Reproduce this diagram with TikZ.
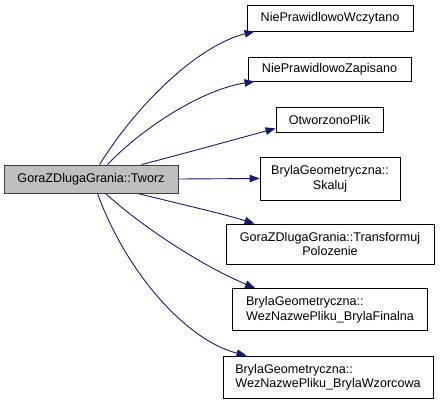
\documentclass[tikz,border=0pt]{standalone}
\usepackage{fontspec}
\setmainfont{Liberation Sans}
\usetikzlibrary{arrows.meta,calc}
\definecolor{edgeblue}{HTML}{191970}
\definecolor{boxgray}{HTML}{BFBFBF}
\definecolor{boxline}{HTML}{404040}
\begin{document}
\begin{tikzpicture}[x=1pt,y=-1pt,
  box/.style={draw=black,line width=0.9pt,fill=white,inner sep=0pt,
    font=\fontsize{12.6}{14.5}\selectfont},
  mainbox/.style={box,draw=boxline,fill=boxgray},
  call/.style={draw=edgeblue,line width=0.9pt,
    -{Triangle[length=10pt,width=7.5pt]},fill=none}]
\useasboundingbox (0,0) rectangle (441,401);
\node[mainbox,minimum width=174pt,minimum height=28pt] (main) at (91,179) {GoraZDlugaGrania::Tworz};
\node[box,minimum width=166pt,minimum height=26pt] (n1) at (330,18) {NiePrawidlowoWczytano};
\node[box,minimum width=163pt,minimum height=24pt] (n2) at (329.5,69) {NiePrawidlowoZapisano};
\node[box,minimum width=107pt,minimum height=25pt] (n3) at (329.5,119.5) {OtworzonoPlik};
\node[box,minimum width=140pt,minimum height=43pt,align=center] (n4) at (330,178.5) {BrylaGeometryczna::\\Skaluj};
\node[box,minimum width=208pt,minimum height=40pt,align=center] (n5) at (330,244) {GoraZDlugaGrania::Transformuj\\Polozenie};
\node[box,minimum width=195pt,minimum height=42pt,align=left] (n6) at (330,309.5) {BrylaGeometryczna::\\WezNazwePliku\_BrylaFinalna};
\node[box,minimum width=210pt,minimum height=42pt,align=left] (n7) at (328,377) {BrylaGeometryczna::\\WezNazwePliku\_BrylaWzorcowa};

\coordinate (s1) at ($(main.north west)+(96,0)$);
\coordinate (s2) at ($(main.north west)+(104,0)$);
\coordinate (s3) at ($(main.north west)+(138,0)$);
\coordinate (s5) at ($(main.south west)+(134,0)$);
\coordinate (s6) at ($(main.south west)+(102,0)$);
\coordinate (s7) at ($(main.south west)+(94,0)$);
\coordinate (t1) at ($(n1.south west)+(8,0)$);
\coordinate (t2) at ($(n2.south west)+(7,0)$);
\coordinate (t3) at ($(n3.south west)+(0,-4)$);
\coordinate (t5) at ($(n5.north west)+(29,0)$);
\coordinate (t6) at ($(n6.north west)+(23,0)$);
\coordinate (t7) at ($(n7.north west)+(24,0)$);

\draw[call] (s1) .. controls (140,100) and (200,45) .. (t1);
\draw[call] (s2) .. controls (140,130) and (200,90) .. (t2);
\draw[call] (s3) .. controls (190,152) and (240,138) .. (t3);
\draw[call] (main.east) -- (n4.west);
\draw[call] (s5) .. controls (180,204) and (220,213) .. (t5);
\draw[call] (s6) .. controls (140,225) and (200,265) .. (t6);
\draw[call] (s7) .. controls (125,270) and (185,340) .. (t7);
\end{tikzpicture}
\end{document}
